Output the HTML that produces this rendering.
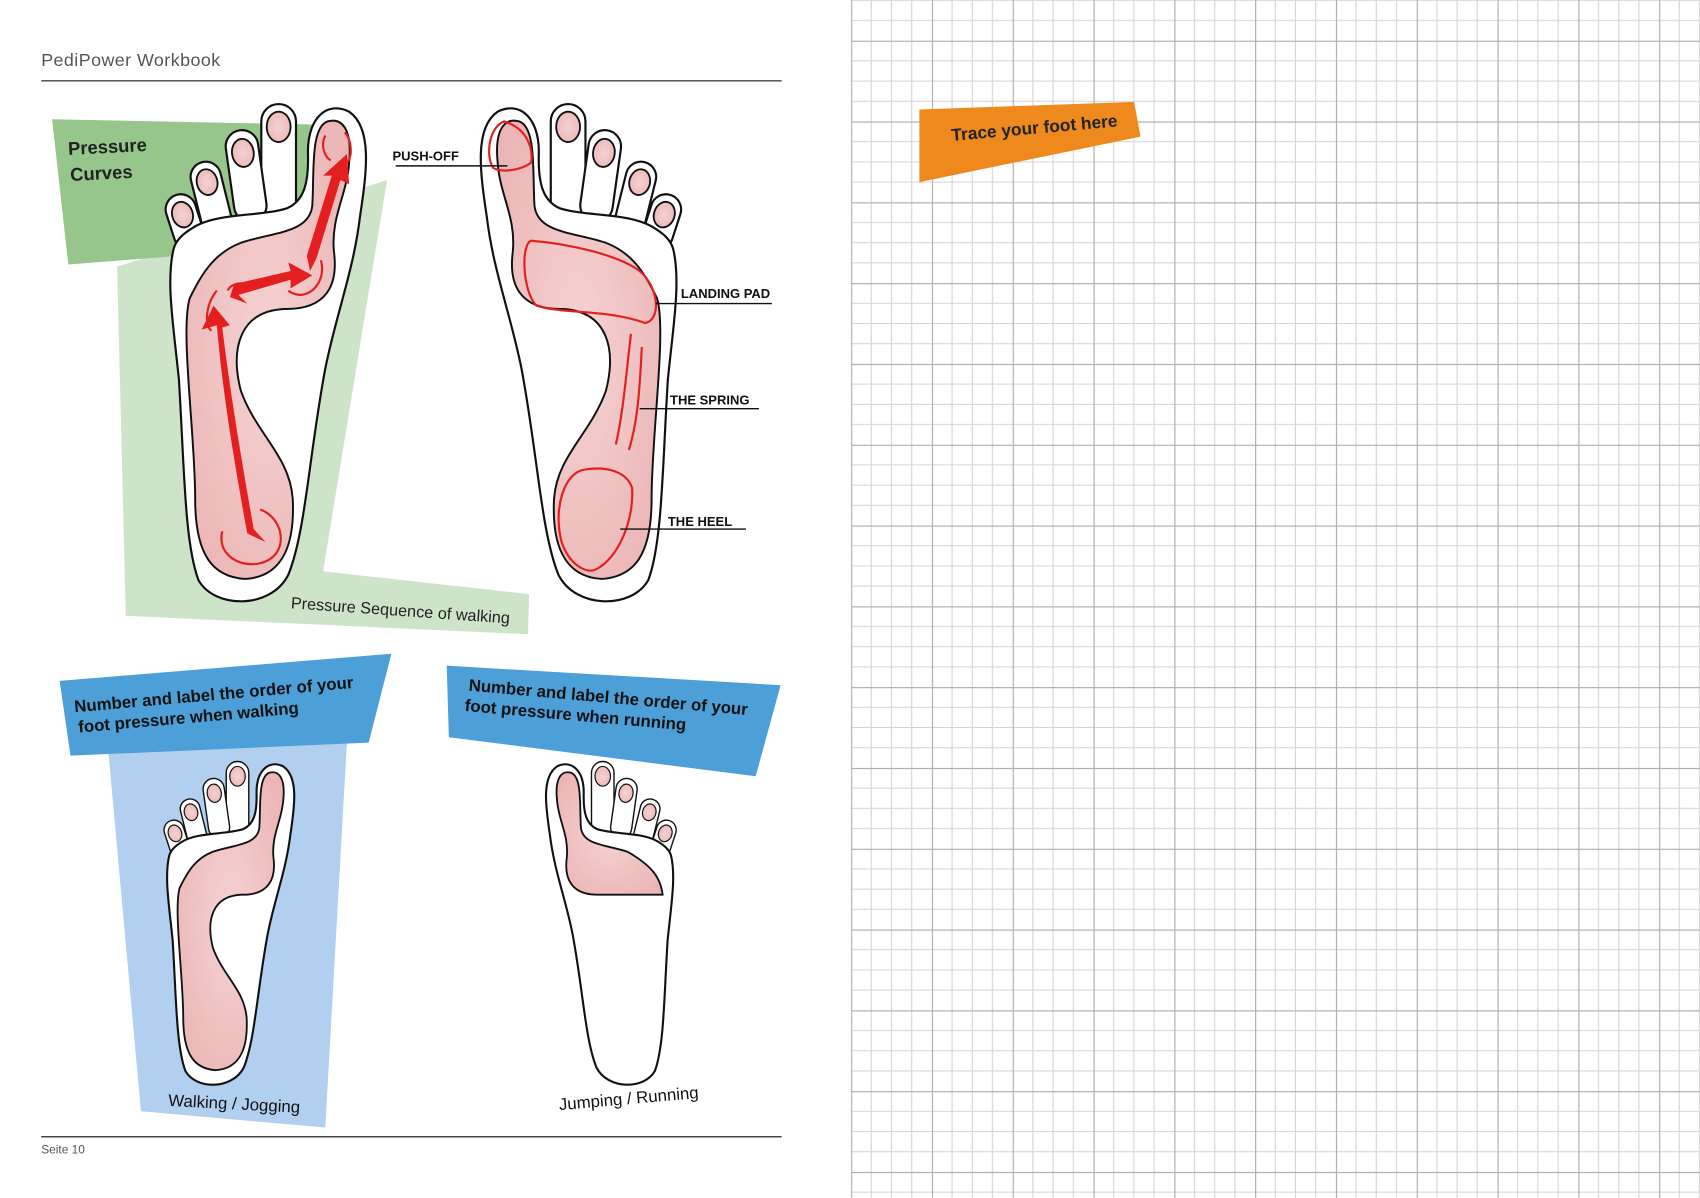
<!DOCTYPE html>
<html><head><meta charset="utf-8"><style>
html,body{margin:0;padding:0;background:#fff;}
svg{display:block;}
text{font-family:"Liberation Sans",sans-serif;}
</style></head><body>
<svg width="1700" height="1198" viewBox="0 0 1568 1105" xmlns="http://www.w3.org/2000/svg">
<defs>
<pattern id="grid" patternUnits="userSpaceOnUse" x="785" y="-37" width="74.53" height="74.53">
<path d="M18.63 0V74.53M37.26 0V74.53M55.9 0V74.53M0 18.63H74.53M0 37.26H74.53M0 55.9H74.53" stroke="#d4d4d4" stroke-width="1" fill="none"/>
<path d="M0.5 0V74.53M0 0.5H74.53" stroke="#ababab" stroke-width="1.1" fill="none"/>
</pattern>
<radialGradient id="pk" cx="50%" cy="50%" r="60%">
<stop offset="0" stop-color="#f5d3d3"/><stop offset="1" stop-color="#ecb6b6"/>
</radialGradient>
<g id="toes" stroke="#111" stroke-width="2">
<rect x="241" y="96" width="32" height="110" rx="16" fill="#fff"/>
<ellipse cx="257" cy="117" rx="11" ry="14" fill="url(#pk)" stroke-width="1.7"/>
<g transform="rotate(-8 224 141)"><rect x="209" y="120" width="30" height="85" rx="15" fill="#fff"/>
<ellipse cx="224" cy="141" rx="10" ry="13" fill="url(#pk)" stroke-width="1.7"/></g>
<g transform="rotate(-14 191 168)"><rect x="177" y="149" width="28" height="68" rx="14" fill="#fff"/>
<ellipse cx="191" cy="168" rx="9.5" ry="12" fill="url(#pk)" stroke-width="1.7"/></g>
<g transform="rotate(-18 168 197)"><rect x="154" y="179" width="28" height="52" rx="14" fill="#fff"/>
<ellipse cx="168" cy="198" rx="9.5" ry="12" fill="url(#pk)" stroke-width="1.7"/></g>
</g>
<path id="body" d="M160 230 C153 260 160 300 165 350 C170 430 170 500 183 535 C198 562 250 562 266 530 C282 490 285 420 300 340 C310 290 326 250 332 200 C338 160 344 118 322 103 C302 93 284 108 284 140 C285 170 280 185 265 192 C240 200 200 196 178 210 C168 216 162 222 160 230 Z"/>
<path id="pink" d="M175 275 C166 305 180 400 180 460 C180 512 196 532 226 534 C262 532 272 500 270 460 C267 420 236 400 222 360 C212 320 222 287 262 285 C302 286 312 262 308 232 C305 200 320 180 322 150 C325 120 316 108 302 112 C286 118 290 160 288 190 C285 215 252 214 222 224 C196 234 185 255 175 275 Z"/>
</defs>

<rect x="0" y="0" width="1568" height="1105" fill="#fff"/>
<rect x="785" y="0" width="783" height="1105" fill="url(#grid)"/>

<text x="38" y="61" font-size="16.5" fill="#555" letter-spacing="0.4">PediPower Workbook</text>
<line x1="38" y1="74.5" x2="721" y2="74.5" stroke="#444" stroke-width="1.3"/>
<line x1="38" y1="1048.5" x2="721" y2="1048.5" stroke="#444" stroke-width="1.3"/>
<text x="38" y="1064" font-size="11" fill="#555">Seite  10</text>

<polygon points="108,246 357,166 298,527 488,548 487,585 116,568" fill="#cde4c9"/>
<polygon points="48,110 296,115 300,185 165,236 63,244" fill="#96c68c"/>
<text x="63" y="143" font-size="17" font-weight="bold" fill="#222" transform="rotate(-3 63 143)">Pressure</text>
<text x="65" y="167" font-size="17" font-weight="bold" fill="#222" transform="rotate(-3 65 167)">Curves</text>
<text x="268" y="561" font-size="15" fill="#222" transform="rotate(4 268 561)">Pressure Sequence of walking</text>

<use href="#toes"/>
<use href="#body" fill="#fff" stroke="#111" stroke-width="2"/>
<use href="#pink" fill="url(#pk)" stroke="#111" stroke-width="1.8"/>
<g fill="#e3201f" stroke="none">
<path d="M228 492 C215 420 205 360 200 300 L186 304 L197 282 L212 300 L205 302 C212 360 222 420 234 488 L245 500 Z"/>
<path d="M216 262 L268 250 L266 242 L288 254 L268 266 L268 258 L220 272 L228 280 L212 274 Z"/>
<path d="M283 236 L306 162 L298 162 L320 142 L322 170 L314 166 L292 238 L286 250 Z"/>
</g>
<g fill="none" stroke="#e3201f" stroke-width="2">
<path d="M205 490 C198 520 240 530 255 510 C265 495 255 475 240 470"/>
<path d="M300 125 C295 135 300 145 305 148 M318 122 C325 130 325 145 320 150"/>
<path d="M200 268 C190 280 188 300 195 305 M210 268 C212 263 220 260 225 262"/>
<path d="M296 240 C300 255 292 270 278 272 C270 272 266 268 266 268"/>
</g>

<g transform="translate(781 0) scale(-1 1)">
<use href="#toes"/>
<use href="#body" fill="#fff" stroke="#111" stroke-width="2"/>
<use href="#pink" fill="url(#pk)" stroke="#111" stroke-width="1.8"/>
</g>
<g fill="none" stroke="#e3201f" stroke-width="2">
<path d="M465 112 C450 118 448 145 455 155 C465 160 482 156 490 150 C492 135 485 118 465 112 Z"/>
<path d="M490 222 C480 225 482 270 495 282 C520 290 560 285 595 298 C610 295 608 265 590 250 C570 235 525 225 490 222 Z"/>
<path d="M582 308 C578 340 575 380 568 410 M592 320 C590 360 588 390 580 415"/>
<path d="M540 433 C520 435 510 470 518 500 C525 520 540 530 550 525 C570 515 585 480 583 450 C578 435 560 430 540 433 Z"/>
</g>
<g font-family="Liberation Sans Narrow, Liberation Sans, sans-serif" font-size="12" fill="#111" font-weight="bold">
<text x="362" y="148">PUSH-OFF</text>
<text x="628" y="275">LANDING PAD</text>
<text x="618" y="373">THE SPRING</text>
<text x="616" y="485">THE HEEL</text>
</g>
<g stroke="#111" stroke-width="1.3">
<line x1="365" y1="153" x2="468" y2="153"/>
<line x1="605" y1="280" x2="712" y2="280"/>
<line x1="590" y1="377" x2="700" y2="377"/>
<line x1="572" y1="488" x2="688" y2="488"/>
</g>

<polygon points="100,694 320,684 300,1040 130,1025" fill="#b1cfee"/>
<polygon points="55,628 361,603 340,685 65,697" fill="#4d9fd8"/>
<text font-size="15.5" font-weight="bold" fill="#111" transform="rotate(-5 69 657)"><tspan x="69" y="657">Number and label the order of your</tspan><tspan x="71" y="676">foot pressure when walking</tspan></text>
<g transform="translate(52 640) scale(0.65)">
<use href="#toes"/>
<use href="#body" fill="#fff" stroke="#111" stroke-width="3"/>
<use href="#pink" fill="url(#pk)" stroke="#111" stroke-width="2.6"/>
</g>
<text x="155" y="1020" font-size="15.5" fill="#111" transform="rotate(3 155 1020)">Walking / Jogging</text>

<polygon points="412,614 720,632 697,716 414,680" fill="#4d9fd8"/>
<text font-size="15.5" font-weight="bold" fill="#111" transform="rotate(5 432 637)"><tspan x="432" y="637">Number and label the order of your</tspan><tspan x="430" y="656">foot pressure when running</tspan></text>
<g transform="translate(723 640) scale(-0.65 0.65)">
<use href="#toes"/>
<use href="#body" fill="#fff" stroke="#111" stroke-width="3"/>
<path d="M172 285 C175 262 185 245 222 224 C252 214 285 215 288 190 C290 160 286 118 302 112 C316 108 325 120 322 150 C320 180 305 200 308 232 C312 262 302 286 262 285 Z" fill="url(#pk)" stroke="#111" stroke-width="2.6"/>
</g>
<text x="516" y="1024" font-size="15.5" fill="#111" transform="rotate(-5 516 1024)">Jumping / Running</text>

<polygon points="848,101 1046,94 1052,126 848,168" fill="#ee8a1d"/>
<text x="878" y="130" font-size="16" font-weight="bold" fill="#222" transform="rotate(-5 878 130)">Trace your foot here</text>
</svg>
</body></html>
